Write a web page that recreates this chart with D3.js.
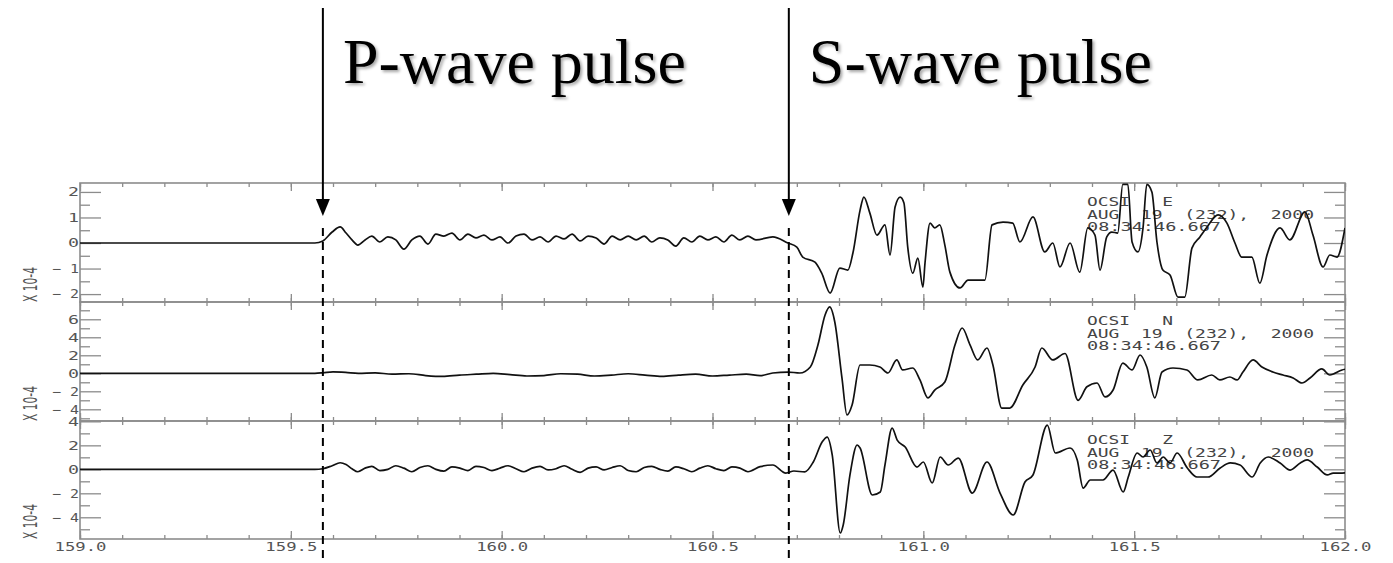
<!DOCTYPE html>
<html>
<head>
<meta charset="utf-8">
<script src="https://cdn.jsdelivr.net/npm/d3@7"></script>
<style>
  body { margin: 0; background: #fff; }
  svg { display: block; }
  .mono { font-family: "DejaVu Sans Mono", monospace; white-space: pre; }
</style>
</head>
<body>
<svg width="1393" height="563"></svg>
<script>
// Data ======================================================

const station = "OCSI";
const components = ["E", "N", "Z"];
const dateLine = "AUG  19  (232),  2000";
const timeLine = "08:34:46.667";
const yUnitLabel = "X 10-4";

const xTicks = [159.0, 159.5, 160.0, 160.5, 161.0, 161.5, 162.0];
const pArrival = 159.576;
const sArrival = 160.681;
const phaseNames = ["P-wave pulse", "S-wave pulse"];

const eastRange = [-2.31, 2.35];
const eastMajor = [-2, -1, 0, 1, 2];
const eastMinor = [-1.5, -0.5, 0.5, 1.5];

const northRange = [-5.3, 7.92];
const northMajor = [-4, -2, 0, 2, 4, 6];
const northMinor = [-5, -3, -1, 1, 3, 5, 7];

const vertRange = [-5.81, 4.03];
const vertMajor = [-4, -2, 0, 2, 4];
const vertMinor = [-5, -3, -1, 1, 3];

// [time (s), amplitude (x 10^-4)]
const eastTrace = [
  [159.000, 0], [159.557, 0], [159.576, 0.08], [159.598, 0.43], [159.617, 0.63], [159.631, 0.39],
  [159.645, 0.12], [159.659, -0.08], [159.676, 0.12], [159.692, 0.27], [159.711, 0.04], [159.730, 0.24],
  [159.749, 0.12], [159.768, -0.24], [159.787, 0.12], [159.806, 0.27], [159.825, -0.04], [159.844, 0.35],
  [159.863, 0.27], [159.882, 0.39], [159.901, 0.12], [159.920, 0.35], [159.939, 0.20], [159.958, 0.31],
  [159.977, 0.12], [159.996, 0.24], [160.015, 0.00], [160.034, 0.27], [160.053, 0.35], [160.072, 0.12],
  [160.091, 0.24], [160.110, 0.04], [160.129, 0.27], [160.148, 0.16], [160.167, 0.35], [160.186, 0.08],
  [160.205, 0.27], [160.224, 0.20], [160.243, -0.04], [160.262, 0.27], [160.281, 0.12], [160.300, 0.27],
  [160.319, 0.12], [160.338, 0.27], [160.356, 0.04], [160.375, 0.20], [160.394, 0.12], [160.413, -0.12],
  [160.432, 0.20], [160.451, 0.04], [160.470, 0.27], [160.489, 0.12], [160.508, 0.24], [160.527, 0.04],
  [160.546, 0.31], [160.565, 0.12], [160.584, 0.27], [160.603, 0.12], [160.643, 0.24], [160.679, 0.00],
  [160.700, -0.16], [160.714, -0.55], [160.743, -0.75], [160.759, -1.18], [160.779, -1.96], [160.802, -0.98],
  [160.821, -1.06], [160.833, -0.39], [160.850, 1.29], [160.859, 1.80], [160.873, 1.18], [160.890, 0.31],
  [160.909, 0.71], [160.921, -0.47], [160.933, 1.41], [160.945, 1.80], [160.954, 1.57], [160.963, -0.16],
  [160.975, -1.18], [160.987, -0.59], [160.999, -1.73], [161.004, -0.78], [161.016, 0.78], [161.027, 0.59],
  [161.039, 0.71], [161.051, -0.08], [161.063, -1.14], [161.087, -1.76], [161.106, -1.45], [161.146, -1.45],
  [161.163, 0.71], [161.189, 0.82], [161.212, 0.78], [161.229, 0.04], [161.260, 1.02], [161.288, -0.35],
  [161.307, 0.00], [161.324, -0.94], [161.348, 0.00], [161.371, -1.14], [161.390, 0.59], [161.407, 0.31],
  [161.419, -1.06], [161.435, 0.24], [161.447, 0.43], [161.461, 0.39], [161.473, 2.30], [161.485, 2.30],
  [161.495, 0.04], [161.509, -0.35], [161.521, 0.59], [161.530, 2.30], [161.542, 2.00], [161.554, 0.04],
  [161.568, -1.06], [161.585, -1.25], [161.604, -2.12], [161.620, -2.12], [161.637, -0.20], [161.656, 0.24],
  [161.673, 0.63], [161.699, 1.10], [161.720, 0.78], [161.739, 0.00], [161.755, -0.55], [161.779, -0.55],
  [161.798, -1.57], [161.815, -0.47], [161.846, 0.59], [161.869, 0.12], [161.905, 1.22], [161.924, 0.31],
  [161.948, -0.94], [161.964, -0.47], [161.981, -0.55], [162.000, 0.59]
];

const northTrace = [
  [159.000, 0], [159.557, 0], [159.576, 0.05], [159.600, 0.15], [159.630, 0.10], [159.660, 0.00],
  [159.700, 0.05], [159.740, -0.10], [159.780, -0.05], [159.820, -0.25], [159.860, -0.35], [159.900, -0.20],
  [159.940, -0.10], [159.980, 0.00], [160.020, -0.15], [160.060, -0.30], [160.100, -0.25], [160.140, -0.05],
  [160.180, -0.10], [160.220, -0.30], [160.260, -0.20], [160.300, -0.05], [160.340, -0.20], [160.380, -0.35],
  [160.420, -0.20], [160.460, -0.10], [160.500, -0.30], [160.540, -0.20], [160.580, -0.10], [160.613, -0.27],
  [160.643, 0.03], [160.679, 0.14], [160.707, 0.03], [160.732, 0.70], [160.750, 3.14], [160.767, 6.48],
  [160.778, 7.37], [160.790, 5.70], [160.807, -0.52], [160.819, -4.63], [160.831, -3.52], [160.850, 0.92],
  [160.873, 0.92], [160.897, 0.70], [160.916, 0.03], [160.937, 1.48], [160.951, 0.37], [160.975, 0.59],
  [160.992, -0.74], [161.011, -2.74], [161.027, -1.86], [161.051, -0.97], [161.075, 3.14], [161.092, 5.03],
  [161.111, 3.14], [161.129, 1.48], [161.151, 2.81], [161.165, 0.92], [161.186, -3.86], [161.205, -3.86],
  [161.236, -1.30], [161.265, 0.70], [161.281, 2.81], [161.307, 1.48], [161.336, 2.20], [161.367, -3.00],
  [161.388, -1.50], [161.412, -1.08], [161.431, -2.63], [161.450, -1.86], [161.473, 1.14], [161.495, 0.37],
  [161.514, 2.03], [161.530, 0.70], [161.549, -2.74], [161.566, 0.14], [161.592, 0.59], [161.625, 0.37],
  [161.651, -0.74], [161.684, -0.19], [161.703, -0.74], [161.727, -0.41], [161.744, -0.74], [161.758, 0.14],
  [161.782, 1.48], [161.803, 0.70], [161.829, 0.14], [161.853, -0.19], [161.877, -0.52], [161.898, -1.08],
  [161.917, -0.52], [161.945, 0.48], [161.964, -0.19], [161.993, 0.37], [162.000, 0.45]
];

const vertTrace = [
  [159.000, 0], [159.557, 0], [159.576, 0.05], [159.598, 0.30], [159.617, 0.55], [159.631, 0.40],
  [159.645, 0.05], [159.659, -0.20], [159.676, 0.10], [159.692, 0.25], [159.711, -0.10], [159.730, 0.00],
  [159.749, 0.30], [159.768, 0.10], [159.787, -0.20], [159.806, 0.15], [159.825, 0.30], [159.844, 0.00],
  [159.863, -0.15], [159.882, 0.20], [159.901, 0.10], [159.920, -0.10], [159.939, 0.25], [159.958, 0.15],
  [159.977, -0.10], [159.996, 0.10], [160.015, 0.30], [160.034, 0.05], [160.053, -0.20], [160.072, 0.10],
  [160.091, 0.25], [160.110, -0.05], [160.129, 0.05], [160.148, 0.30], [160.167, 0.00], [160.186, -0.25],
  [160.205, 0.10], [160.224, 0.20], [160.243, -0.05], [160.262, 0.15], [160.281, 0.30], [160.300, -0.10],
  [160.319, -0.20], [160.338, 0.15], [160.356, 0.25], [160.375, 0.00], [160.394, -0.15], [160.413, 0.20],
  [160.432, 0.05], [160.451, -0.20], [160.470, 0.10], [160.489, 0.30], [160.508, 0.05], [160.527, -0.10],
  [160.546, 0.20], [160.565, 0.10], [160.584, -0.20], [160.613, 0.22], [160.643, 0.36], [160.674, -0.31],
  [160.693, -0.14], [160.719, -0.22], [160.739, 0.61], [160.760, 2.28], [160.772, 2.69], [160.784, 1.19],
  [160.803, -5.31], [160.810, -4.64], [160.826, -0.47], [160.843, 2.03], [160.850, 1.78], [160.879, -2.14],
  [160.898, -1.89], [160.909, 0.36], [160.926, 3.44], [160.938, 2.44], [160.957, 1.86], [160.985, 0.19],
  [161.000, 0.61], [161.021, -1.14], [161.040, 1.03], [161.059, 0.36], [161.083, 0.94], [161.116, -1.98],
  [161.151, 0.61], [161.182, -1.98], [161.213, -3.81], [161.241, -1.06], [161.260, -0.47], [161.294, 3.69],
  [161.313, 1.36], [161.348, 1.78], [161.365, 0.78], [161.379, -1.56], [161.396, -0.89], [161.426, -0.89],
  [161.450, -0.06], [161.474, -1.89], [161.486, -0.64], [161.507, 1.36], [161.521, 1.03], [161.538, 1.61],
  [161.554, 0.53], [161.569, 1.03], [161.585, 0.53], [161.602, 1.36], [161.626, 0.11], [161.649, -0.64],
  [161.675, -0.64], [161.704, 0.11], [161.728, 0.53], [161.751, 0.36], [161.780, -0.64], [161.799, 0.53],
  [161.818, 1.03], [161.846, 0.53], [161.870, -0.06], [161.894, 0.53], [161.910, 0.78], [161.934, 0.19],
  [161.958, -0.47], [161.972, -0.31], [161.993, -0.31], [162.000, -0.30]
];

// Layout ====================================================

const svg = d3.select("svg");
const left = 80, right = 1345;
const frameColor = "#8c8c8c";
const labelColor = "#555";

const panels = [
  { comp: components[0], trace: eastTrace, range: eastRange, major: eastMajor, minor: eastMinor, top: 183, bottom: 302 },
  { comp: components[1], trace: northTrace, range: northRange, major: northMajor, minor: northMinor, top: 302, bottom: 421 },
  { comp: components[2], trace: vertTrace, range: vertRange, major: vertMajor, minor: vertMinor, top: 421, bottom: 539 }
];

const x = d3.scaleLinear().domain([159, 162]).range([left, right]);

const defs = svg.append("defs");
const shadow = defs.append("filter").attr("id", "shadow")
  .attr("x", "-5%").attr("y", "-10%").attr("width", "115%").attr("height", "130%");
shadow.append("feDropShadow")
  .attr("dx", 2).attr("dy", 2).attr("stdDeviation", 1.6)
  .attr("flood-color", "#000").attr("flood-opacity", 0.35);

function styleTicks(g) {
  g.select(".domain").remove();
  g.selectAll("line").attr("stroke", frameColor).attr("stroke-width", 1.3);
}

// Panels ====================================================

panels.forEach(function(p, i) {
  let y = d3.scaleLinear().domain(p.range).range([p.bottom, p.top]);
  let g = svg.append("g").attr("class", "panel");

  defs.append("clipPath").attr("id", "clip" + i)
    .append("rect")
    .attr("x", left).attr("y", p.top)
    .attr("width", right - left).attr("height", p.bottom - p.top);

  // x ticks, top and bottom, pointing inwards
  g.append("g").attr("transform", "translate(0," + p.top + ")")
    .call(d3.axisBottom(x).ticks(30).tickSize(4).tickFormat("")).call(styleTicks);
  g.append("g").attr("transform", "translate(0," + p.top + ")")
    .call(d3.axisBottom(x).tickValues(xTicks).tickSize(8).tickFormat("")).call(styleTicks);
  g.append("g").attr("transform", "translate(0," + p.bottom + ")")
    .call(d3.axisTop(x).ticks(30).tickSize(4).tickFormat("")).call(styleTicks);
  g.append("g").attr("transform", "translate(0," + p.bottom + ")")
    .call(d3.axisTop(x).tickValues(xTicks).tickSize(8).tickFormat("")).call(styleTicks);

  // y ticks, left and right
  g.append("g").attr("transform", "translate(" + left + ",0)")
    .call(d3.axisRight(y).tickValues(p.major).tickSize(21).tickFormat("")).call(styleTicks);
  g.append("g").attr("transform", "translate(" + left + ",0)")
    .call(d3.axisRight(y).tickValues(p.minor).tickSize(10).tickFormat("")).call(styleTicks);
  g.append("g").attr("transform", "translate(" + right + ",0)")
    .call(d3.axisLeft(y).tickValues(p.major).tickSize(21).tickFormat("")).call(styleTicks);
  g.append("g").attr("transform", "translate(" + right + ",0)")
    .call(d3.axisLeft(y).tickValues(p.minor).tickSize(10).tickFormat("")).call(styleTicks);

  // y labels
  let yl = g.append("g").attr("transform", "translate(" + (left - 1) + ",0)")
    .call(d3.axisLeft(y).tickValues(p.major).tickSize(0).tickPadding(0)
      .tickFormat(function(d) { return d < 0 ? "\u2212 " + (-d) : String(d); }));
  yl.select(".domain").remove();
  yl.selectAll("text")
    .attr("class", "mono")
    .attr("font-size", 12)
    .attr("fill", labelColor)
    .attr("lengthAdjust", "spacingAndGlyphs")
    .attr("textLength", function(d) { return d < 0 ? 27 : 11; });

  // frame
  g.append("rect")
    .attr("x", left).attr("y", p.top)
    .attr("width", right - left).attr("height", p.bottom - p.top)
    .attr("fill", "none").attr("stroke", frameColor).attr("stroke-width", 1.6);

  // unit label
  g.append("text")
    .attr("transform", "translate(37," + p.bottom + ") rotate(-90)")
    .attr("font-family", "DejaVu Sans")
    .attr("font-size", 19)
    .attr("fill", labelColor)
    .attr("lengthAdjust", "spacingAndGlyphs")
    .attr("textLength", 35)
    .text(yUnitLabel);

  // station block
  let info = g.append("g").attr("fill", "#444").attr("font-size", 12.5);
  info.append("text").attr("class", "mono")
    .attr("x", 1087).attr("y", p.top + 23)
    .attr("lengthAdjust", "spacingAndGlyphs").attr("textLength", 86)
    .text(station + "   " + p.comp);
  info.append("text").attr("class", "mono")
    .attr("x", 1087).attr("y", p.top + 35.5)
    .attr("lengthAdjust", "spacingAndGlyphs").attr("textLength", 227)
    .text(dateLine);
  info.append("text").attr("class", "mono")
    .attr("x", 1087).attr("y", p.top + 48)
    .attr("lengthAdjust", "spacingAndGlyphs").attr("textLength", 134)
    .text(timeLine);

  // trace
  let line = d3.line()
    .curve(d3.curveMonotoneX)
    .x(function(d) { return x(d[0]); })
    .y(function(d) { return y(d[1]); });
  g.append("path")
    .datum(p.trace)
    .attr("clip-path", "url(#clip" + i + ")")
    .attr("d", line)
    .attr("fill", "none")
    .attr("stroke", "#111")
    .attr("stroke-width", 1.7)
    .attr("stroke-linejoin", "round");
});

// bottom time axis labels
let xl = svg.append("g").attr("transform", "translate(0," + panels[2].bottom + ")")
  .call(d3.axisBottom(x).tickValues(xTicks).tickSize(0).tickFormat(d3.format(".1f")));
xl.select(".domain").remove();
xl.selectAll("text")
  .attr("class", "mono")
  .attr("y", 12).attr("dy", 0)
  .attr("font-size", 12.5)
  .attr("fill", labelColor)
  .attr("lengthAdjust", "spacingAndGlyphs")
  .attr("textLength", 52);

// Phase markers =============================================

[pArrival, sArrival].forEach(function(t, i) {
  let px = x(t);
  svg.append("line")
    .attr("x1", px).attr("x2", px).attr("y1", 8).attr("y2", 202)
    .attr("stroke", "#000").attr("stroke-width", 2);
  svg.append("path")
    .attr("d", d3.line()([[px - 7, 199], [px + 7, 199], [px, 216]]) + "Z")
    .attr("fill", "#000");
  svg.append("line")
    .attr("x1", px).attr("x2", px).attr("y1", 228).attr("y2", 563)
    .attr("stroke", "#000").attr("stroke-width", 2)
    .attr("stroke-dasharray", "8,6");
  svg.append("text")
    .attr("x", px + 20).attr("y", 83)
    .attr("font-family", "Liberation Serif, Times New Roman, serif")
    .attr("font-size", 64)
    .attr("fill", "#000")
    .attr("filter", "url(#shadow)")
    .text(phaseNames[i]);
});
</script>
</body>
</html>
